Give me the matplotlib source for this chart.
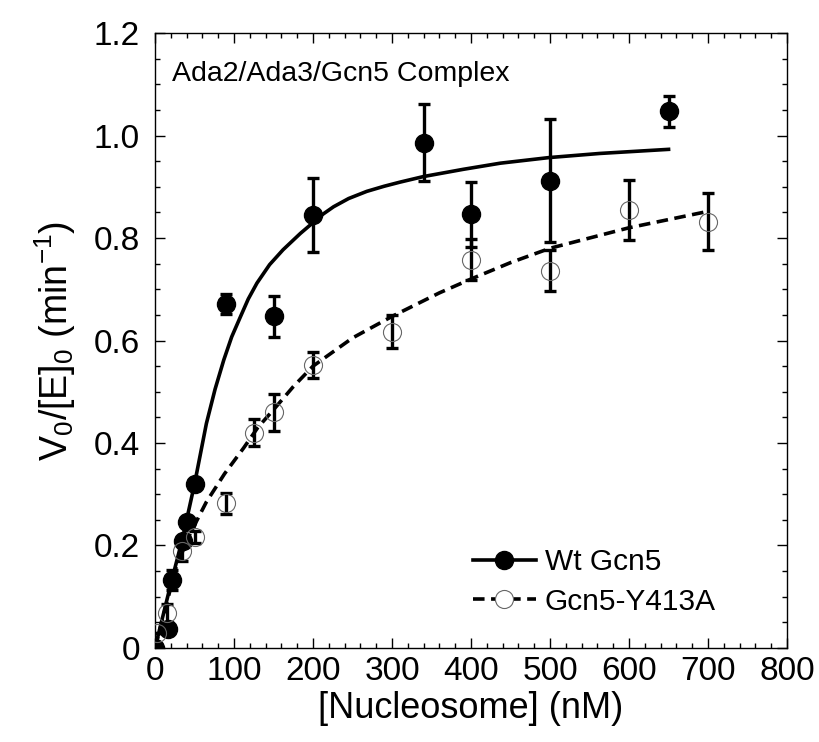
import matplotlib
matplotlib.use("Agg")
import matplotlib.pyplot as plt
from matplotlib.ticker import MultipleLocator

plt.rcParams['font.family'] = ['Liberation Sans', 'DejaVu Sans']
plt.rcParams['mathtext.fontset'] = 'custom'
plt.rcParams['mathtext.rm'] = 'Liberation Sans'

# -----------------------
# Data
# -----------------------
wt_x = [0, 17, 21, 35, 41, 50, 90, 150, 200, 340, 400, 500, 650]
wt_y = [0.0, 0.038, 0.133, 0.209, 0.246, 0.32, 0.671, 0.647, 0.845, 0.986, 0.846, 0.912, 1.047]
wt_err = [0.0, 0.01, 0.02, 0.01, 0.01, 0.0, 0.02, 0.04, 0.073, 0.075, 0.064, 0.12, 0.03]

mut_x = [3, 15, 34, 51, 90, 125, 150, 200, 300, 400, 500, 600, 700]
mut_y = [0.03, 0.068, 0.19, 0.216, 0.282, 0.42, 0.46, 0.552, 0.617, 0.758, 0.736, 0.855, 0.832]
mut_err = [0.0, 0.018, 0.02, 0.012, 0.02, 0.026, 0.036, 0.025, 0.032, 0.04, 0.04, 0.058, 0.056]

# fitted curves
wt_fit_x = [0, 20, 35, 50, 65, 76, 87, 97, 108, 118, 129, 145, 162, 184, 200, 213, 226, 245, 268, 290, 310, 340, 390, 437, 499, 563, 650]
wt_fit_y = [0.0, 0.125, 0.215, 0.32, 0.438, 0.505, 0.562, 0.607, 0.646, 0.681, 0.712, 0.748, 0.777, 0.809, 0.83, 0.847, 0.861, 0.877, 0.891, 0.901, 0.909, 0.92, 0.934, 0.946, 0.957, 0.965, 0.973]

mut_fit_x = [0, 27, 45, 65, 88, 112, 130, 150, 175, 200, 250, 300, 360, 400, 450, 500, 600, 700]
mut_fit_y = [0.0, 0.16, 0.225, 0.285, 0.34, 0.39, 0.43, 0.465, 0.51, 0.55, 0.605, 0.647, 0.693, 0.72, 0.752, 0.78, 0.82, 0.852]

fig = plt.figure(figsize=(8.19, 7.42), dpi=100)
ax = fig.add_axes([0.1893, 0.1267, 0.7717, 0.8288])

# curves
ax.plot(wt_fit_x, wt_fit_y, color="black", lw=2.6, zorder=2)
ax.plot(mut_fit_x, mut_fit_y, color="black", lw=2.6, ls=(0, (3.2, 1.8)), zorder=2)

# error bars
ax.errorbar(wt_x, wt_y, yerr=wt_err, fmt="none", ecolor="black",
            elinewidth=2.4, capsize=4.5, capthick=2.4, zorder=3)
ax.errorbar(mut_x, mut_y, yerr=mut_err, fmt="none", ecolor="black",
            elinewidth=2.4, capsize=4.5, capthick=2.4, zorder=3)

# markers
ax.plot(wt_x, wt_y, "o", color="black", ms=13, zorder=4)
ax.plot(mut_x, mut_y, "o", mfc="none", mec="#666666", mew=0.8, ms=13, zorder=4)

# legend handles
h1, = ax.plot([], [], "-o", color="black", lw=2.6, ms=13)
h2, = ax.plot([], [], ls=(0, (3.2, 1.8)), color="black", lw=2.6,
              marker="o", mfc="white", mec="#666666", mew=0.8, ms=13)
ax.legend([h1, h2], ["Wt Gcn5", "Gcn5-Y413A"], loc="upper left",
          bbox_to_anchor=(0.503, 0.162), frameon=False, fontsize=21.5,
          handlelength=2.1, handletextpad=0.3, labelspacing=0.38,
          borderpad=0, borderaxespad=0)

ax.text(0.027, 0.955, "Ada2/Ada3/Gcn5 Complex", transform=ax.transAxes,
        fontsize=20.5, ha="left", va="top")

ax.set_xlim(0, 800)
ax.set_ylim(0, 1.2)
ax.xaxis.set_major_locator(MultipleLocator(100))
ax.xaxis.set_minor_locator(MultipleLocator(20))
ax.yaxis.set_minor_locator(MultipleLocator(0.05))
ax.set_yticks([0, 0.2, 0.4, 0.6, 0.8, 1.0, 1.2])
ax.set_yticklabels(["0", "0.2", "0.4", "0.6", "0.8", "1.0", "1.2"])

ax.tick_params(which="both", direction="in", top=True, right=True, width=1)
ax.tick_params(which="major", length=7)
ax.tick_params(which="minor", length=3.6)
ax.tick_params(axis="y", labelsize=24, pad=11)
ax.tick_params(axis="x", labelsize=24, pad=6)

for sp in ax.spines.values():
    sp.set_linewidth(1.0)

ax.set_xlabel("[Nucleosome] (nM)", fontsize=26, labelpad=3)
ax.set_ylabel(r"V$_0$/[E]$_0$ (min$^{-1}$)", fontsize=27, labelpad=11)

fig.savefig("out.png", dpi=100)
